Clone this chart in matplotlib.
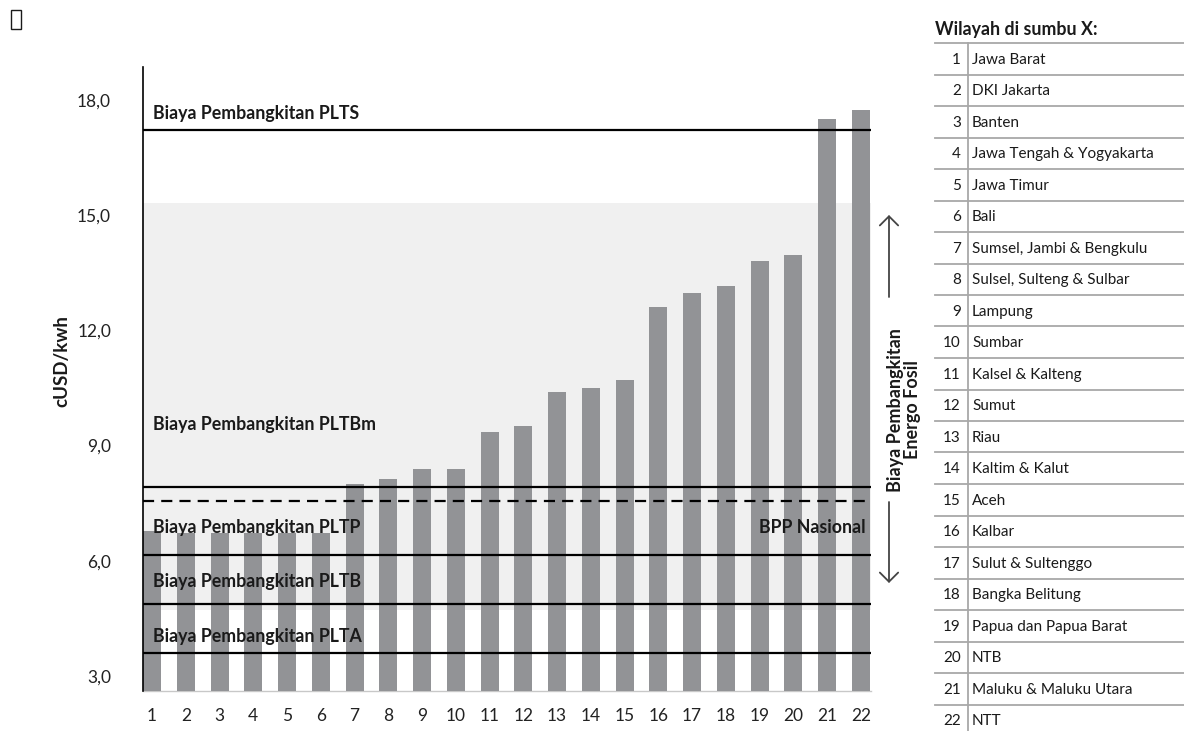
import matplotlib
matplotlib.use("Agg")
import matplotlib.pyplot as plt
from matplotlib.lines import Line2D
from matplotlib.patches import FancyArrowPatch, Rectangle

plt.rcParams['font.family'] = ['Lato', 'DejaVu Sans']

# Biaya pokok penyediaan per wilayah (cUSD/kWh)
regions = [
    "Jawa Barat", "DKI Jakarta", "Banten", "Jawa Tengah & Yogyakarta",
    "Jawa Timur", "Bali", "Sumsel, Jambi & Bengkulu", "Sulsel, Sulteng & Sulbar",
    "Lampung", "Sumbar", "Kalsel & Kalteng", "Sumut", "Riau", "Kaltim & Kalut",
    "Aceh", "Kalbar", "Sulut & Sultenggo", "Bangka Belitung",
    "Papua dan Papua Barat", "NTB", "Maluku & Maluku Utara", "NTT",
]
region_no = list(range(1, 23))
bpp_region = [6.78, 6.72, 6.72, 6.72, 6.72, 6.72, 8.0, 8.13, 8.39, 8.39,
              9.35, 9.51, 10.4, 10.5, 10.71, 12.61, 12.97, 13.16, 13.81,
              13.96, 17.5, 17.74]

# Biaya pembangkitan per jenis pembangkit
gen_names = ["PLTS", "PLTBm", "PLTP", "PLTB", "PLTA"]
gen_cost = [17.22, 7.92, 6.15, 4.875, 3.6]
bpp_nasional = 7.56
fossil_range = [4.72, 15.32]

y_ticks = [3, 6, 9, 12, 15, 18]
y_ticklabels = ["3,0", "6,0", "9,0", "12,0", "15,0", "18,0"]

W, H = 1184, 731
fig = plt.figure(figsize=(W / 100, H / 100), dpi=100)


def fx(px):
    return px / W


def fy(py):
    return 1 - py / H


ax = fig.add_axes([fx(143), fy(691), fx(871) - fx(143), fy(67) - fy(691)])

bar_w = 0.533
bar_color = "#929396"
text_color = "#1a1a1a"

ax.axhspan(fossil_range[0], fossil_range[1], color="#f0f0f0", zorder=0, lw=0)
ax.bar(region_no, bpp_region, width=bar_w, color=bar_color, zorder=2)

x0 = 1 - bar_w / 2
x1 = 22 + bar_w / 2 + 0.03
ax.set_xlim(x0, x1)
ax.set_ylim(2.61, 18.86)

for val in gen_cost:
    ax.axhline(val, color="black", lw=1.6, zorder=3)
ax.axhline(bpp_nasional, color="black", lw=1.6, ls=(0, (5, 3.2)), zorder=3)

label_y = {"PLTS": 17.66, "PLTBm": 9.54, "PLTP": 6.88, "PLTB": 5.45, "PLTA": 4.02}
for name in gen_names:
    ax.text(x0 + 0.3, label_y[name], f"Biaya Pembangkitan {name}",
            ha="left", va="center", fontsize=12.8, fontweight="bold",
            color=text_color, zorder=4)
ax.text(x1 - 0.15, 6.88, "BPP Nasional", ha="right", va="center",
        fontsize=12.8, fontweight="bold", color=text_color, zorder=4)

ax.set_xticks(region_no)
ax.set_xticklabels([str(n) for n in region_no])
ax.set_yticks(y_ticks)
ax.set_yticklabels(y_ticklabels)
ax.tick_params(axis="both", length=0, labelsize=12.5, colors="#222222")
ax.tick_params(axis="x", pad=12)
ax.tick_params(axis="y", pad=23)

for side in ["top", "right"]:
    ax.spines[side].set_visible(False)
ax.spines["left"].set_linewidth(1.2)
ax.spines["bottom"].set_linewidth(1.0)
ax.spines["bottom"].set_color("#c8c8c8")
ax.spines["bottom"].set_zorder(1)
ax.set_facecolor("none")

# Kotak ikon kecil di pojok kiri atas
fig.add_artist(Rectangle((fx(10.5), fy(29)), fx(10), fy(10) - fy(29),
                         transform=fig.transFigure, fill=False,
                         edgecolor=text_color, lw=1.0))

fig.text(fx(62), fy(361), "cUSD/kwh", rotation=90, ha="center", va="center",
         fontsize=13.5, fontweight="bold", color=text_color)

# Rentang biaya pembangkitan energi fosil
arrow_kw = dict(arrowstyle="->,head_length=0.33,head_width=0.33",
                color="#444444", lw=1.3, mutation_scale=20,
                shrinkA=0, shrinkB=0, transform=fig.transFigure)
fig.add_artist(FancyArrowPatch((fx(889), fy(297)), (fx(889), fy(215)), **arrow_kw))
fig.add_artist(FancyArrowPatch((fx(889), fy(502)), (fx(889), fy(583)), **arrow_kw))
fig.text(fx(904), fy(410), "Biaya Pembangkitan\nEnergo Fosil", rotation=90,
         ha="center", va="center", multialignment="center", fontsize=13,
         fontweight="bold", color=text_color, linespacing=1.0)

# Tabel keterangan wilayah
fig.text(fx(935), fy(30), "Wilayah di sumbu X:", ha="left", va="center",
         fontsize=12.8, fontweight="bold", color=text_color)
row_top = 43
row_h = 31.5
grid_color = "#a8a8a8"
for k in range(len(regions)):
    yline = row_top + k * row_h
    fig.add_artist(Line2D([fx(935), fx(1184)], [fy(yline), fy(yline)],
                          transform=fig.transFigure, color=grid_color, lw=1.3))
    yc = yline + row_h / 2 + 1
    fig.text(fx(961), fy(yc), str(region_no[k]), ha="right", va="center",
             fontsize=11, color=text_color)
    fig.text(fx(972), fy(yc), regions[k], ha="left", va="center",
             fontsize=11, color=text_color)
fig.add_artist(Line2D([fx(968), fx(968)], [fy(row_top), fy(H)],
                      transform=fig.transFigure, color=grid_color, lw=1.3))

fig.savefig("out.png", dpi=100)
